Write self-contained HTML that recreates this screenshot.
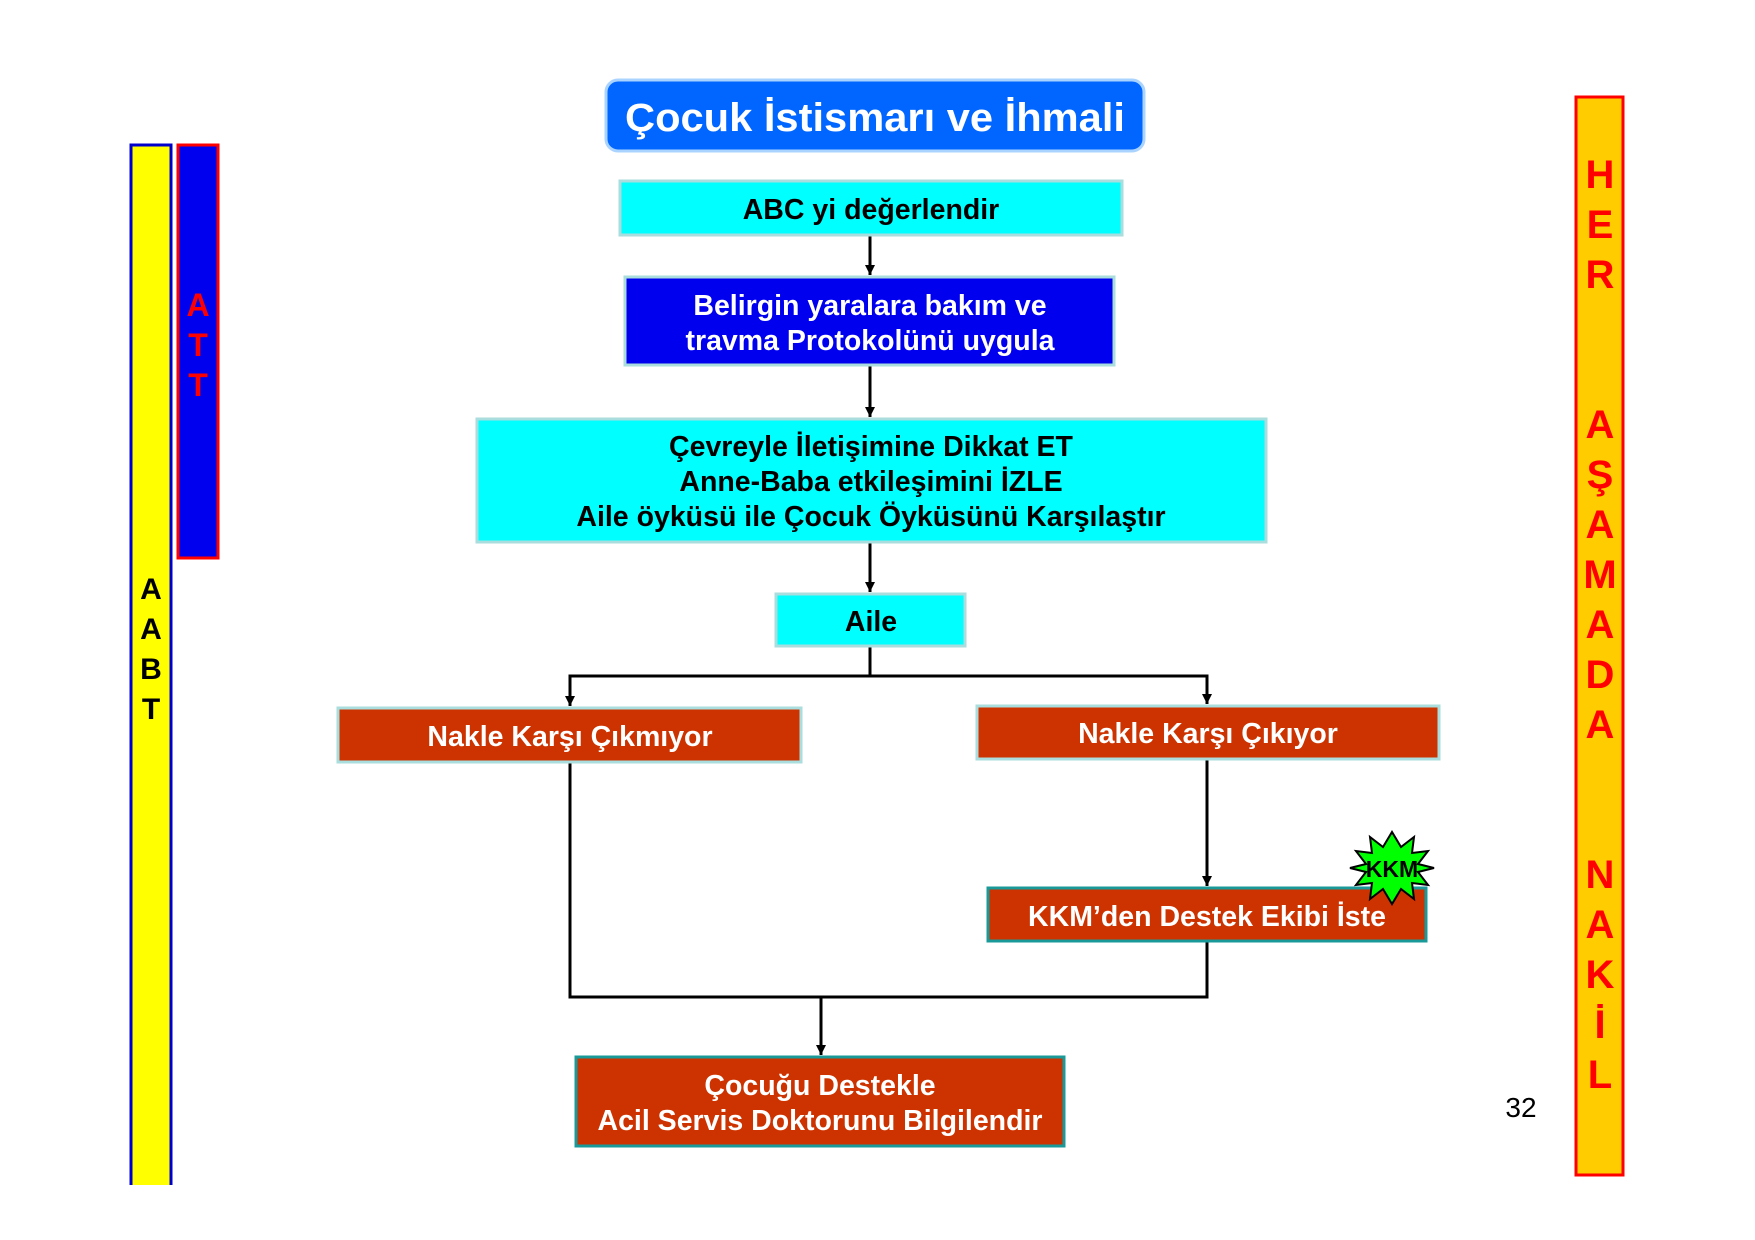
<!DOCTYPE html>
<html><head><meta charset="utf-8"><style>
html,body{margin:0;padding:0;background:#fff}
svg{display:block}
text{font-family:"Liberation Sans",Arial,sans-serif;font-weight:bold}
</style></head><body>
<svg width="1755" height="1240" viewBox="0 0 1755 1240" xmlns="http://www.w3.org/2000/svg">
<defs><marker id="a" markerWidth="12" markerHeight="12" refX="10" refY="5" orient="auto" markerUnits="userSpaceOnUse"><path d="M0,0 L10,5 L0,10 z" fill="#000"/></marker></defs>
<!-- side bars -->
<rect x="131" y="145" width="40" height="1040" fill="#ffff00"/>
<polyline points="131,1185 131,145 171,145 171,1185" fill="none" stroke="#0000cc" stroke-width="3"/>
<rect x="178" y="145" width="40" height="413" fill="#0000ee" stroke="#ff0000" stroke-width="3"/>
<rect x="1576" y="97" width="47" height="1078" fill="#ffcc00" stroke="#ff0000" stroke-width="3"/>
<g font-size="30" fill="#000" text-anchor="middle">
<text x="151" y="599">A</text><text x="151" y="639">A</text><text x="151" y="679">B</text><text x="151" y="719">T</text></g>
<g font-size="32" fill="#ff0000" text-anchor="middle">
<text x="198" y="316">A</text><text x="198" y="356">T</text><text x="198" y="396">T</text></g>
<g font-size="40" fill="#ff0000" text-anchor="middle">
<text x="1600" y="188">H</text><text x="1600" y="238">E</text><text x="1600" y="288">R</text>
<text x="1600" y="438">A</text><text x="1600" y="488">Ş</text><text x="1600" y="538">A</text><text x="1600" y="588">M</text><text x="1600" y="638">A</text><text x="1600" y="688">D</text><text x="1600" y="738">A</text>
<text x="1600" y="888">N</text><text x="1600" y="938">A</text><text x="1600" y="988">K</text><text x="1600" y="1038">İ</text><text x="1600" y="1088">L</text></g>
<text x="1521" y="1117" font-size="28" text-anchor="middle" style="font-weight:normal">32</text>
<!-- connectors -->
<g stroke="#000" stroke-width="3" fill="none">
<line x1="870" y1="236" x2="870" y2="275" marker-end="url(#a)"/>
<line x1="870" y1="366" x2="870" y2="417" marker-end="url(#a)"/>
<line x1="870" y1="543" x2="870" y2="592" marker-end="url(#a)"/>
<polyline points="870,647 870,676 570,676 570,706" marker-end="url(#a)"/>
<polyline points="870,676 1207,676 1207,704" marker-end="url(#a)"/>
<line x1="1207" y1="760" x2="1207" y2="886" marker-end="url(#a)"/>
<polyline points="570,763 570,997 1207,997 1207,942"/>
<line x1="821" y1="997" x2="821" y2="1055" marker-end="url(#a)"/>
</g>
<!-- boxes -->
<rect x="606" y="80" width="538" height="71" rx="12" fill="#0066ff" stroke="#aad4ff" stroke-width="3"/>
<text x="875" y="131" font-size="40" fill="#fff" text-anchor="middle" textLength="500" lengthAdjust="spacingAndGlyphs">Çocuk İstismarı ve İhmali</text>
<rect x="620" y="181" width="502" height="54" fill="#00ffff" stroke="#aadddd" stroke-width="3"/>
<text x="871" y="219" font-size="28.5" fill="#000" text-anchor="middle">ABC yi değerlendir</text>
<rect x="625" y="277" width="489" height="88" fill="#0000ee" stroke="#aadddd" stroke-width="3"/>
<text x="870" y="315" font-size="28.5" fill="#fff" text-anchor="middle">Belirgin yaralara bakım ve</text>
<text x="870" y="350" font-size="28.5" fill="#fff" text-anchor="middle">travma Protokolünü uygula</text>
<rect x="477" y="419" width="789" height="123" fill="#00ffff" stroke="#aadddd" stroke-width="3"/>
<text x="871" y="456" font-size="28.5" fill="#000" text-anchor="middle">Çevreyle İletişimine Dikkat ET</text>
<text x="871" y="491" font-size="28.5" fill="#000" text-anchor="middle">Anne-Baba etkileşimini İZLE</text>
<text x="871" y="526" font-size="28.5" fill="#000" text-anchor="middle">Aile öyküsü ile Çocuk Öyküsünü Karşılaştır</text>
<rect x="776" y="594" width="189" height="52" fill="#00ffff" stroke="#aadddd" stroke-width="3"/>
<text x="871" y="631" font-size="28.5" fill="#000" text-anchor="middle">Aile</text>
<rect x="338" y="708" width="463" height="54" fill="#cc3300" stroke="#aadddd" stroke-width="3"/>
<text x="570" y="746" font-size="28.5" fill="#fff" text-anchor="middle">Nakle Karşı Çıkmıyor</text>
<rect x="977" y="706" width="462" height="53" fill="#cc3300" stroke="#aadddd" stroke-width="3"/>
<text x="1208" y="743" font-size="28.5" fill="#fff" text-anchor="middle">Nakle Karşı Çıkıyor</text>
<rect x="988" y="888" width="438" height="53" fill="#cc3300" stroke="#1a9999" stroke-width="3"/>
<text x="1207" y="926" font-size="28.5" fill="#fff" text-anchor="middle">KKM’den Destek Ekibi İste</text>
<rect x="576" y="1057" width="488" height="89" fill="#cc3300" stroke="#1a9999" stroke-width="3"/>
<text x="820" y="1095" font-size="28.5" fill="#fff" text-anchor="middle">Çocuğu Destekle</text>
<text x="820" y="1130" font-size="28.5" fill="#fff" text-anchor="middle">Acil Servis Doktorunu Bilgilendir</text>
<!-- KKM star -->
<polygon fill="#00ff00" stroke="#000" stroke-width="2" points="1434,868 1418,872 1428,885 1412,883 1414,899 1401,889 1392,904 1383,889 1370,899 1372,883 1356,885 1366,872 1350,868 1366,864 1356,851 1372,853 1370,837 1383,847 1392,832 1401,847 1414,837 1412,853 1428,851 1418,864"/>
<text x="1392" y="877" font-size="23" fill="#000" text-anchor="middle">KKM</text>
</svg>
</body></html>
